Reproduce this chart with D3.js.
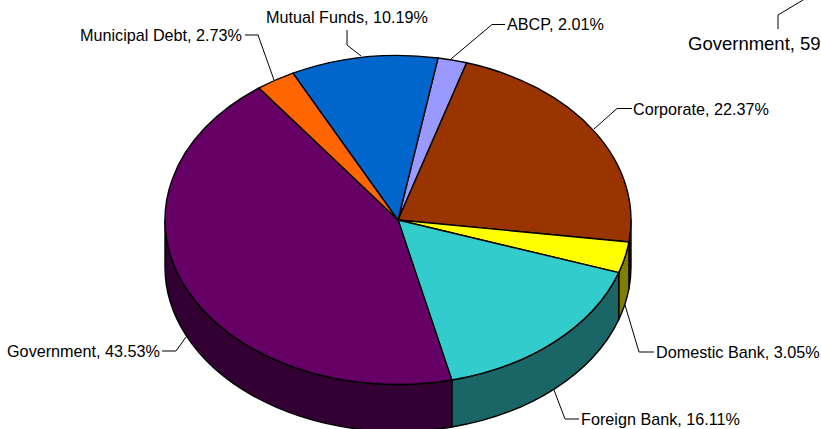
<!DOCTYPE html>
<html>
<head>
<meta charset="utf-8">
<script src="https://cdn.jsdelivr.net/npm/d3@7/dist/d3.min.js"></script>
<style>
  html, body { margin: 0; padding: 0; background: #fff; overflow: hidden; }
  svg { display: block; }
  text { font-family: "Liberation Sans", Arial, sans-serif; fill: #000; }
</style>
</head>
<body>
<div id="chart"></div>
<script>
const categories = ["ABCP", "Corporate", "Domestic Bank", "Foreign Bank", "Government", "Municipal Debt", "Mutual Funds"];
const shares = [2.01, 22.37, 3.05, 16.11, 43.53, 2.73, 10.19];
const topColors = ["#9999ff", "#993300", "#ffff00", "#33cccc", "#660066", "#ff6600", "#0066cc"];
const sideColors = ["#4d4d80", "#4d1a00", "#808000", "#1a6666", "#330033", "#803300", "#003366"];

const width = 821, height = 429;
const cx = 398, cy = 220, rx = 233, ry = 164.5, depth = 47;
const startDeg = 9.9;

const svg = d3.select("#chart").append("svg")
  .attr("width", width)
  .attr("height", height);

const pie = d3.pie().sort(null)
  .startAngle(startDeg * Math.PI / 180)
  .endAngle((startDeg + 360) * Math.PI / 180);
const slices = pie(shares);

const px = a => cx + rx * Math.sin(a);
const py = a => cy - ry * Math.cos(a);

function topPath(s) {
  const large = s.endAngle - s.startAngle > Math.PI ? 1 : 0;
  return `M${cx},${cy}L${px(s.startAngle)},${py(s.startAngle)}` +
    `A${rx},${ry} 0 ${large} 1 ${px(s.endAngle)},${py(s.endAngle)}Z`;
}

// only the part of the rim facing the viewer gets a wall
function sidePath(s) {
  const a = Math.max(s.startAngle, Math.PI / 2);
  const b = Math.min(s.endAngle, Math.PI * 1.5);
  if (b <= a) return null;
  return `M${px(a)},${py(a)}A${rx},${ry} 0 0 1 ${px(b)},${py(b)}` +
    `L${px(b)},${py(b) + depth}A${rx},${ry} 0 0 0 ${px(a)},${py(a) + depth}Z`;
}

svg.append("g").selectAll("path")
  .data(slices.filter(s => sidePath(s)))
  .enter()
  .append("path")
  .attr("d", sidePath)
  .attr("fill", d => sideColors[d.index])
  .attr("stroke", "#000")
  .attr("stroke-width", 1.4)
  .attr("stroke-linejoin", "round");

svg.append("g").selectAll("path")
  .data(slices)
  .enter()
  .append("path")
  .attr("d", topPath)
  .attr("fill", d => topColors[d.index])
  .attr("stroke", "#000")
  .attr("stroke-width", 1.4)
  .attr("stroke-linejoin", "round");

// leader lines and label placement
const labelLayout = [
  { line: [[451, 59], [492, 24.5], [505, 24.5]], x: 507, y: 30, anchor: "start" },
  { line: [[594, 129], [617, 108.5], [632, 108.5]], x: 633, y: 115, anchor: "start" },
  { line: [[625, 305], [639, 352], [654, 352]], x: 656, y: 358, anchor: "start" },
  { line: [[554, 390], [565, 419], [579, 419]], x: 581, y: 425, anchor: "start" },
  { line: [[186, 337], [176, 351], [162, 351]], x: 160, y: 357, anchor: "end" },
  { line: [[274, 80], [258, 35], [245, 35]], x: 242, y: 41, anchor: "end" },
  { line: [[361, 56], [347, 45], [347, 30]], x: 347, y: 23, anchor: "middle" }
];

const lineGen = d3.line();

svg.append("g").selectAll("path")
  .data(labelLayout)
  .enter()
  .append("path")
  .attr("d", d => lineGen(d.line))
  .attr("fill", "none")
  .attr("stroke", "#000")
  .attr("stroke-width", 1);

svg.append("g").selectAll("text")
  .data(labelLayout)
  .enter()
  .append("text")
  .attr("x", d => d.x)
  .attr("y", d => d.y)
  .attr("text-anchor", d => d.anchor)
  .style("font-size", "16.2px")
  .text((d, i) => `${categories[i]}, ${shares[i].toFixed(2)}%`);

// the neighbouring chart's label, cut off by the page edge
svg.append("path")
  .attr("d", lineGen([[778, 29], [778, 15], [803, 0]]))
  .attr("fill", "none")
  .attr("stroke", "#000")
  .attr("stroke-width", 1);

svg.append("text")
  .attr("x", 688)
  .attr("y", 50)
  .style("font-size", "18.5px")
  .text("Government, 59");
</script>
</body>
</html>
